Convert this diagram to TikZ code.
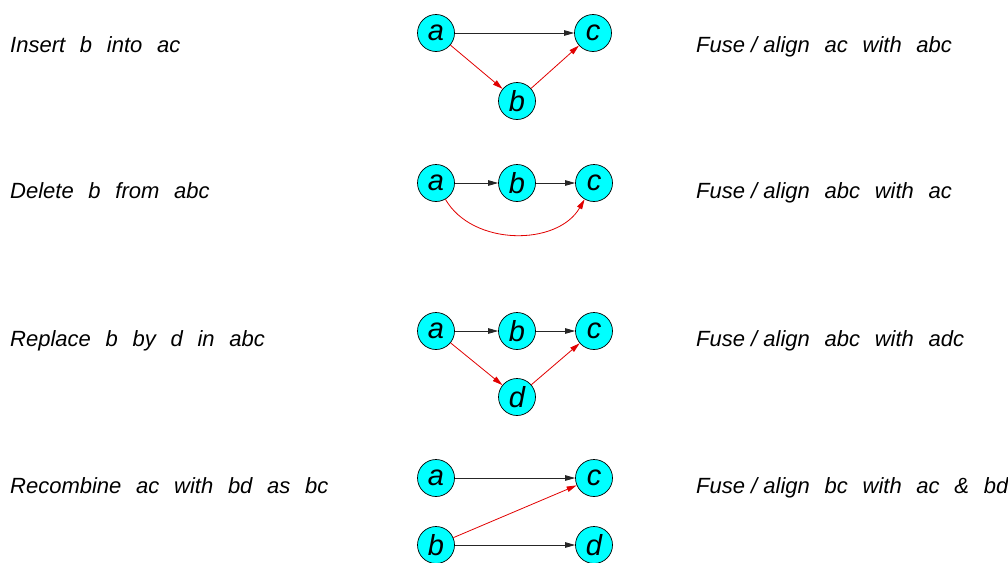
\documentclass[tikz,border=0pt]{standalone}
\usepackage{fontspec}
\setmainfont{Liberation Sans}
\usetikzlibrary{arrows.meta}
\definecolor{vfill}{RGB}{0,255,255}
\definecolor{chgred}{RGB}{225,0,0}
\newcommand{\gap}{\hspace{0.67em}}
\begin{document}
\begin{tikzpicture}[x=1pt,y=-1pt,
  vtx/.style={circle,draw=black,line width=0.7pt,fill=vfill,minimum size=37pt,inner sep=0pt,
    font=\fontsize{29}{31}\selectfont\itshape},
  lbl/.style={anchor=base west,inner sep=0pt,font=\fontsize{22}{24}\selectfont\itshape},
  arr/.style={line width=0.8pt,-{Triangle[length=10pt,width=5.5pt]}},
  plain/.style={arr,draw=black!85},
  chg/.style={arr,draw=chgred}]
\useasboundingbox (0,0) rectangle (1008,562);

% Row 1: insertion
\node[vtx] (a1) at (436,33) {a};
\node[vtx] (c1) at (593,33) {c};
\node[vtx] (b1) at (517,101) {b};
\draw[plain] (a1) -- (c1);
\draw[chg] (a1) -- (b1);
\draw[chg] (b1) -- (c1);
\node[lbl] (l1) at (10,52) {Insert\gap b\gap into\gap ac};
\node[lbl] (r1) at (696,52) {Fuse / align\gap ac\gap with\gap abc};

% Row 2: deletion
\node[vtx] (a2) at (436,183) {a};
\node[vtx] (b2) at (517,183) {b};
\node[vtx] (c2) at (594,183) {c};
\draw[plain] (a2) -- (b2);
\draw[plain] (b2) -- (c2);
\draw[chg] (a2) to[out=-60,in=-120] (c2);
\node[lbl] (l2) at (10,198) {Delete\gap b\gap from\gap abc};
\node[lbl] (r2) at (696,198) {Fuse / align\gap abc\gap with\gap ac};

% Row 3: replacement
\node[vtx] (a3) at (436,331) {a};
\node[vtx] (b3) at (517,331) {b};
\node[vtx] (c3) at (594,331) {c};
\node[vtx] (d3) at (517,397) {d};
\draw[plain] (a3) -- (b3);
\draw[plain] (b3) -- (c3);
\draw[chg] (a3) -- (d3);
\draw[chg] (d3) -- (c3);
\node[lbl] (l3) at (10,346) {Replace\gap b\gap by\gap d\gap in\gap abc};
\node[lbl] (r3) at (696,346) {Fuse / align\gap abc\gap with\gap adc};

% Row 4: recombination
\node[vtx] (a4) at (436,478) {a};
\node[vtx] (c4) at (594,478) {c};
\node[vtx] (b4) at (436,545) {b};
\node[vtx] (d4) at (594,545) {d};
\draw[plain] (a4) -- (c4);
\draw[plain] (b4) -- (d4);
\draw[chg] (b4) -- (c4);
\node[lbl] (l4) at (10,493) {Recombine\gap ac\gap with\gap bd\gap as\gap bc};
\node[lbl] (r4) at (696,493) {Fuse / align\gap bc\gap with\gap ac\gap \&\gap bd};
\end{tikzpicture}
\end{document}
